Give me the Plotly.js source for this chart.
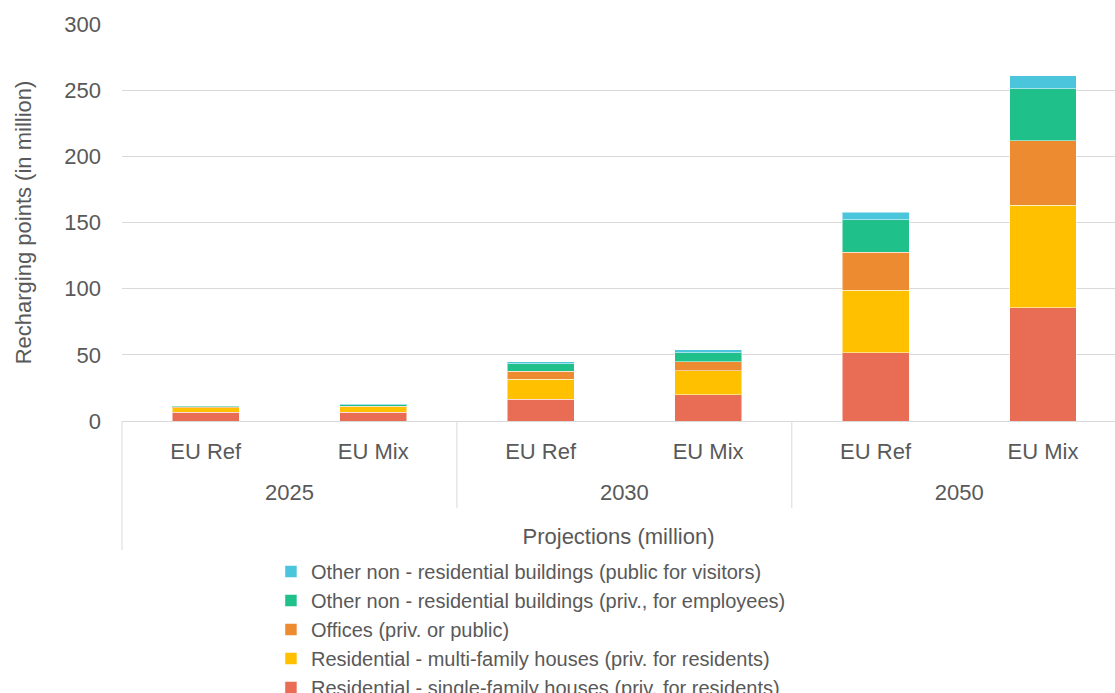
<!DOCTYPE html>
<html>
<head>
<meta charset="utf-8">
<script src="https://cdn.plot.ly/plotly-3.0.1.min.js"></script>
<style>
html,body{margin:0;padding:0;background:#fff;width:1115px;height:693px;overflow:hidden;}
#chart{width:1115px;height:800px;}
</style>
</head>
<body>
<div id="chart"></div>
<script>
const years = ["2025", "2025", "2030", "2030", "2050", "2050"];
const scenarios = ["EU Ref", "EU Mix", "EU Ref", "EU Mix", "EU Ref", "EU Mix"];
const yearLabels = ["2025", "2030", "2050"];
const singleFamily = [6.5, 6.8, 16.6, 19.9, 51.6, 85.6];
const multiFamily = [3.6, 3.9, 15.1, 17.9, 47.1, 77.4];
const offices = [0.5, 0.6, 5.8, 7.0, 28.8, 48.6];
const employees = [0.8, 1.0, 5.8, 6.8, 24.6, 39.5];
const visitors = [0.3, 0.3, 1.3, 2.1, 5.6, 9.9];
const seriesNames = [
  "Residential - single-family houses (priv. for residents)",
  "Residential - multi-family houses (priv. for residents)",
  "Offices (priv. or public)",
  "Other non - residential buildings (priv., for employees)",
  "Other non - residential buildings (public for visitors)"
];
const colors = ["#E96C55", "#FFC000", "#ED8B30", "#1FC08A", "#4BC5DB"];
const seriesValues = [singleFamily, multiFamily, offices, employees, visitors];

const cats = years.map((y, i) => y + " " + scenarios[i]);

const traces = seriesValues.map((vals, i) => ({
  type: "bar",
  x: cats,
  y: vals,
  name: seriesNames[i],
  marker: {color: colors[i], line: {color: "rgba(255,255,255,0.5)", width: 1}},
  hoverinfo: "y+name"
}));

// The figure is drawn taller than the 693px window; the page clips it,
// just as the reference image cuts through the last legend entry.
const W = 1115, H = 800, mT = 24, mL = 122;
const plotH = H - mT;
const py = Y => (H - Y) / plotH;   // pixel row -> paper fraction
const font = {family: "Liberation Sans, Arial, sans-serif", color: "#595959", size: 22};
const xr = [-0.5, 5.43];

const yearTickVals = yearLabels.map((y) => {
  const idx = years.map((v, i) => v === y ? i : -1).filter(i => i >= 0);
  return (idx[0] + idx[idx.length - 1]) / 2;
});

const gridGrey = "#D9D9D9";
const shapes = [];
for (let k = 1; k < yearLabels.length; k++) {
  const pos = years.indexOf(yearLabels[k]) - 0.5;
  shapes.push({type: "line", xref: "x2", yref: "paper", x0: pos, x1: pos,
    y0: py(421), y1: py(508), line: {color: gridGrey, width: 1}});
}
shapes.push({type: "line", xref: "paper", yref: "paper", x0: 0, x1: 0,
  y0: py(421), y1: py(550), line: {color: gridGrey, width: 1}});

const layout = {
  width: W, height: H,
  margin: {l: mL, r: 0, t: mT, b: 0},
  barmode: "stack",
  bargap: 0.6,
  font: font,
  paper_bgcolor: "#fff", plot_bgcolor: "#fff",
  showlegend: true,
  legend: {
    orientation: "v", traceorder: "reversed",
    x: 0.150, xanchor: "left", xref: "paper",
    y: py(552), yanchor: "top", yref: "paper",
    font: {size: 20, color: "#595959"},
    itemwidth: 30, tracegroupgap: 0, bgcolor: "rgba(0,0,0,0)"
  },
  xaxis: {
    type: "category",
    range: xr,
    tickvals: cats, ticktext: scenarios,
    showline: true, linecolor: gridGrey, linewidth: 1,
    ticks: "", ticklabelstandoff: 11,
    tickfont: {size: 22, color: "#595959"},
    showgrid: false, zeroline: false,
    automargin: false
  },
  xaxis2: {
    type: "linear",
    overlaying: "x", anchor: "free", position: py(477), side: "bottom",
    range: xr,
    tickmode: "array", tickvals: yearTickVals, ticktext: yearLabels,
    showline: false, showgrid: false, zeroline: false, ticks: "",
    tickfont: {size: 22, color: "#595959"},
    title: {text: "Projections (million)", font: {size: 22, color: "#595959"}, standoff: 24},
    automargin: false
  },
  yaxis: {
    domain: [py(421), 1],
    range: [0, 300], dtick: 50,
    showgrid: true, gridcolor: gridGrey, gridwidth: 1,
    zeroline: false,
    ticklabelstandoff: 20,
    tickfont: {size: 22, color: "#595959"},
    title: {text: "Recharging points (in million)", font: {size: 22, color: "#595959"}, standoff: 26},
    automargin: false
  },
  shapes: shapes
};

Plotly.newPlot("chart", traces, layout, {displayModeBar: false, staticPlot: true});
</script>
</body>
</html>
